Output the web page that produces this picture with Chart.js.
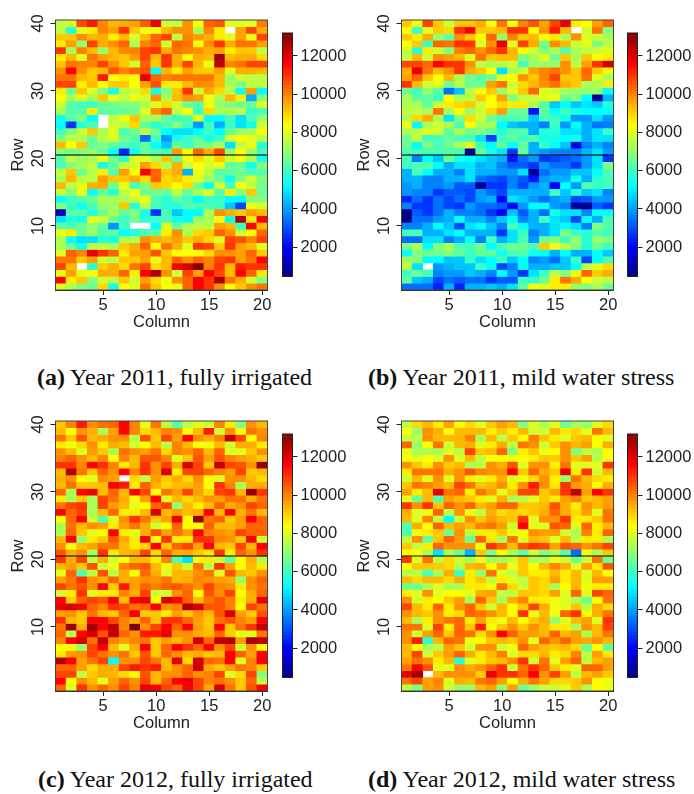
<!DOCTYPE html>
<html>
<head>
<meta charset="utf-8">
<title>Yield maps</title>
<script src="https://cdn.jsdelivr.net/npm/chart.js@4"></script>
<style>
body { margin: 0; background: #fff; width: 694px; height: 794px; position: relative; overflow: hidden; }
canvas { position: absolute; }
.cap { position: absolute; font: 24px "Liberation Serif", serif; color: #111; white-space: nowrap; }
</style>
</head>
<body>
<script>
// yield in hundreds, rows listed from row 40 down to row 1, null = no plot
const year2011Full = [
[74,77,105,110,97,90,92,94,103,113,76,74,96,82,102,104,78,78,78,99],
[74,56,78,84,98,94,108,88,80,80,90,96,96,72,98,84,null,94,106,92],
[88,88,97,90,92,84,90,77,90,102,106,74,98,94,92,84,78,94,80,106],
[84,94,70,106,92,96,102,72,98,102,76,102,100,82,96,108,92,100,100,94],
[108,72,98,90,70,90,98,98,106,108,92,100,98,96,92,94,84,88,88,74],
[84,90,78,100,94,90,88,94,106,90,108,92,82,92,90,122,90,92,92,86],
[88,100,98,98,106,96,88,76,102,88,108,92,106,90,80,118,98,100,106,106],
[96,112,96,88,90,104,98,102,104,52,90,84,94,88,88,94,78,92,92,90],
[100,100,90,88,110,82,84,82,114,102,98,100,100,100,100,90,70,76,74,74],
[106,106,84,90,82,88,88,82,94,104,84,84,90,96,96,90,72,68,74,74],
[84,66,88,78,68,54,74,76,86,54,68,88,108,76,92,86,74,54,94,52],
[82,72,78,72,88,80,74,80,76,96,72,90,96,94,80,72,90,84,46,68],
[76,62,58,58,66,66,68,68,72,78,86,76,66,62,80,70,68,66,66,78],
[72,62,62,84,62,64,64,66,78,96,102,74,82,58,86,72,72,74,58,60],
[54,62,68,52,null,74,80,88,72,72,64,58,62,78,52,52,60,50,60,70],
[52,34,56,60,null,76,74,86,64,56,62,68,58,44,58,46,58,50,54,76],
[58,68,76,88,72,78,60,66,74,66,52,50,50,52,58,52,66,70,72,80],
[68,74,72,66,74,78,66,62,40,60,44,54,58,62,54,58,76,82,78,74],
[90,82,88,64,68,64,60,58,64,52,48,66,58,66,68,72,50,74,80,56],
[68,66,68,70,64,52,32,54,64,62,60,94,82,102,92,106,70,82,70,60],
[62,74,70,72,80,66,56,78,78,72,88,64,82,86,78,88,76,80,72,54],
[60,68,72,74,54,64,74,76,94,86,72,92,76,82,76,80,64,66,54,68],
[74,88,66,74,84,62,94,82,112,102,88,92,46,80,74,62,64,66,60,62],
[72,90,74,74,94,88,88,92,86,102,86,88,84,78,70,66,54,68,76,68],
[90,74,78,92,92,66,80,60,68,88,86,82,86,66,52,76,60,82,74,66],
[74,68,80,52,64,56,74,80,66,66,64,74,64,72,78,62,84,68,88,66],
[52,58,62,66,72,72,72,76,80,60,56,64,58,52,58,58,52,52,68,68],
[68,58,54,60,70,70,88,56,74,60,56,56,62,60,60,58,48,36,80,76],
[22,62,62,56,66,72,64,68,54,34,60,48,52,52,72,96,92,88,94,90],
[50,56,54,78,76,66,58,66,56,58,60,54,52,70,72,80,54,120,84,112],
[64,60,66,70,64,44,58,null,null,52,78,64,72,74,74,94,90,58,112,90],
[80,84,66,70,62,64,52,56,60,64,84,96,72,86,88,102,96,76,82,102],
[72,52,50,50,56,54,72,72,96,92,90,94,88,92,86,78,106,104,98,106],
[72,66,54,74,74,72,88,92,102,82,100,92,78,108,106,88,108,94,90,78],
[78,102,98,114,108,102,84,94,94,104,88,82,82,82,86,96,96,94,102,88],
[100,100,88,94,76,74,88,88,94,80,90,102,96,102,98,106,108,94,100,112],
[106,90,null,56,88,92,86,100,106,86,90,112,116,126,98,108,90,110,108,108],
[80,94,78,82,92,92,102,84,112,120,96,76,106,94,112,106,90,112,102,84],
[112,84,88,68,76,74,88,76,94,86,80,96,102,112,108,120,100,92,76,68],
[78,72,68,66,86,54,82,78,100,88,82,80,102,112,108,96,82,88,96,100]
]
const year2011Stress = [
[88,80,106,88,76,88,88,92,82,100,82,98,104,94,106,114,84,82,94,102],
[82,58,78,88,86,108,112,88,88,90,108,108,82,96,110,90,null,76,100,68],
[88,84,92,70,64,96,88,82,102,70,98,88,90,82,84,72,96,78,76,72],
[82,88,58,102,100,108,108,78,96,114,78,106,92,66,96,90,76,78,68,74],
[76,56,84,76,68,98,102,96,102,108,90,82,76,68,72,62,72,74,76,78],
[74,90,76,96,94,90,78,100,88,90,90,68,72,78,66,88,72,88,82,84],
[106,106,102,112,108,108,96,74,72,74,76,60,70,70,70,96,74,94,108,116],
[92,114,100,90,96,108,92,88,82,50,72,76,94,98,100,96,88,102,88,82],
[94,102,88,82,90,72,66,62,66,78,82,96,88,98,106,88,88,100,78,72],
[108,90,76,78,66,74,66,66,94,100,76,86,90,96,100,92,88,72,72,84],
[66,58,70,62,40,48,74,82,88,70,78,88,102,78,76,72,70,70,70,52],
[72,64,64,58,82,72,74,88,82,94,68,74,76,78,80,66,68,52,20,46],
[72,72,64,76,84,86,88,76,82,86,84,84,72,62,48,52,48,50,48,56],
[74,74,72,100,72,82,70,76,86,94,66,66,30,64,52,58,54,52,52,52],
[72,86,92,72,50,68,86,76,66,60,60,62,48,60,58,54,44,44,50,44],
[80,52,72,76,72,60,82,72,72,52,48,46,46,42,58,44,52,46,40,42],
[72,74,78,76,64,72,66,68,64,56,62,62,46,56,56,50,50,46,50,58],
[66,74,58,60,64,60,60,50,36,58,64,58,62,54,54,52,54,46,50,50],
[66,52,68,60,66,72,78,58,52,64,52,64,46,58,52,48,26,42,46,42],
[60,60,60,60,62,60,18,64,54,50,34,64,46,44,42,42,42,46,50,44],
[60,42,52,48,66,54,52,50,48,46,30,40,44,34,36,38,40,44,50,34],
[58,60,62,52,46,50,50,46,48,42,38,38,34,44,40,40,34,44,50,68],
[46,60,52,46,46,42,50,46,46,44,44,50,20,40,44,44,48,48,52,60],
[46,46,42,42,46,46,50,40,38,36,42,38,30,44,46,46,54,46,56,60],
[44,46,42,42,44,38,38,20,34,34,42,36,44,46,28,52,44,62,58,58],
[44,42,42,34,38,38,36,44,40,36,46,46,46,46,58,48,56,48,50,42],
[32,40,34,40,36,40,36,44,46,28,50,48,44,40,44,46,36,38,44,44],
[42,34,34,40,36,34,44,40,40,38,28,44,52,52,44,42,20,18,38,34],
[14,38,34,40,46,42,42,40,34,28,48,38,46,40,54,50,50,42,52,52],
[14,40,40,44,46,52,46,46,42,48,52,42,46,58,50,48,36,52,46,60],
[42,42,46,52,48,36,50,52,48,42,60,52,46,46,50,52,50,42,68,62],
[60,60,46,46,50,52,46,46,46,34,50,58,42,46,50,68,58,56,62,58],
[40,40,50,50,42,46,52,42,58,46,50,60,44,66,68,58,70,56,70,68],
[68,72,52,68,72,60,60,66,52,60,66,66,60,88,80,74,68,56,66,58],
[52,68,66,66,68,64,58,64,64,54,60,62,54,52,46,52,46,46,52,48],
[72,68,52,52,48,48,58,50,52,58,48,52,42,44,40,48,58,36,52,60],
[74,50,null,44,46,48,48,58,52,36,42,52,46,46,48,48,52,74,78,86],
[58,66,60,42,44,44,48,46,42,52,44,34,50,58,74,68,80,102,88,92],
[64,48,46,36,40,38,40,40,34,38,38,58,56,66,84,100,92,82,76,74],
[40,40,40,32,46,32,46,46,48,46,50,64,80,78,84,84,70,68,72,66]
]
const year2012Full = [
[88,98,110,96,100,102,112,98,78,100,74,62,74,78,76,98,84,68,96,90],
[90,82,96,92,72,94,112,98,86,90,98,96,82,90,110,76,96,82,100,96],
[100,88,104,90,92,96,96,74,104,88,106,94,112,96,92,98,118,106,82,98],
[84,80,86,96,84,92,90,76,82,90,74,98,90,82,80,90,76,92,92,84],
[96,90,78,94,88,72,100,96,94,100,86,98,96,102,90,102,78,78,88,96],
[98,102,96,90,98,82,98,90,104,104,98,78,88,104,94,104,98,94,92,88],
[108,108,98,112,108,98,84,90,108,96,106,92,116,106,88,118,106,104,96,124],
[90,120,100,88,102,96,112,98,108,96,116,84,106,106,102,98,94,106,88,90],
[92,96,82,78,96,94,null,86,74,94,88,92,86,96,82,78,96,96,90,86],
[90,100,88,88,90,112,110,84,102,92,86,90,90,94,82,108,98,72,92,92],
[102,72,112,114,90,102,90,112,106,82,100,94,106,94,86,106,108,90,124,108],
[84,72,88,72,106,100,92,82,94,112,78,90,86,90,96,94,100,100,92,100],
[100,106,108,72,106,94,90,78,82,102,106,70,90,84,90,102,92,96,106,102],
[112,102,106,72,90,102,84,84,90,116,90,94,90,92,112,90,112,92,100,90],
[82,102,112,76,62,78,96,108,100,88,94,114,82,124,100,102,88,94,112,102],
[72,100,90,96,94,84,94,100,92,76,82,102,82,82,102,90,90,94,102,102],
[72,102,88,78,82,112,84,78,92,104,94,100,94,112,98,96,94,106,102,102],
[90,112,70,84,88,104,92,84,112,82,108,84,84,108,108,98,96,88,112,76],
[96,80,90,94,100,100,90,84,86,112,88,102,106,94,112,90,88,106,90,112],
[104,92,96,72,108,84,90,92,106,86,102,92,92,88,84,108,84,102,96,108],
[108,92,106,74,92,76,82,90,90,84,98,60,50,82,84,76,64,82,92,72],
[90,94,88,104,76,80,98,102,104,90,80,88,76,100,74,108,94,82,90,84],
[78,102,62,74,104,74,92,82,102,92,78,90,90,96,100,78,104,90,88,96],
[94,100,108,96,92,102,92,94,96,96,100,90,92,98,96,94,92,70,96,102],
[106,100,104,96,112,88,110,94,102,98,102,104,100,96,106,98,96,84,96,100],
[76,84,108,78,84,84,98,92,106,76,76,96,102,82,104,96,106,82,92,102],
[112,88,102,106,104,112,90,112,114,82,116,112,102,90,100,104,98,84,92,114],
[114,116,112,102,98,108,106,100,102,112,96,98,120,116,104,104,98,82,106,100],
[94,96,88,100,90,88,102,112,88,88,84,94,88,96,90,104,116,94,88,104],
[108,90,88,112,112,106,98,92,102,88,108,108,102,94,88,100,104,98,94,112],
[100,122,92,122,112,118,98,128,96,106,112,102,112,94,88,112,88,100,108,118],
[102,74,112,116,104,118,102,96,110,110,114,96,96,92,90,102,88,78,78,100],
[98,112,116,100,118,98,94,98,100,88,94,90,96,116,102,118,120,94,120,118],
[82,80,70,106,112,90,78,92,112,88,102,112,108,102,112,96,106,76,96,82],
[84,94,96,106,100,96,100,88,104,88,102,96,90,92,88,90,112,102,94,112],
[120,112,94,100,106,52,96,96,106,100,90,114,86,116,102,100,112,78,98,112],
[102,102,94,86,92,92,106,110,108,110,90,96,102,116,92,88,94,100,98,88],
[106,106,74,88,92,90,86,82,104,90,96,96,102,96,98,106,78,86,106,68],
[112,82,96,90,78,94,102,96,106,90,102,112,114,106,98,100,96,88,102,74],
[102,78,108,96,102,96,106,98,114,112,106,102,112,106,92,116,100,88,104,112]
]
const year2012Stress = [
[74,86,90,84,94,82,86,78,88,94,90,68,78,72,78,66,72,70,78,86],
[82,70,96,92,82,90,90,90,84,88,84,90,76,76,90,84,86,78,100,90],
[74,74,96,90,90,90,98,72,90,74,88,82,98,88,84,78,88,90,82,78],
[102,70,82,100,76,90,92,78,84,92,74,100,96,76,88,96,90,94,82,92],
[78,72,72,72,78,74,106,88,90,102,68,84,88,80,82,96,68,74,72,82],
[82,78,82,78,96,78,90,74,82,82,82,82,84,88,88,96,88,94,74,82],
[96,88,84,96,88,90,72,74,96,92,104,78,96,96,84,100,78,78,78,108],
[84,100,100,100,92,96,104,98,96,96,112,88,102,92,88,114,84,108,76,90],
[76,90,78,96,78,96,84,78,84,92,78,80,86,96,84,70,100,90,86,84],
[88,100,98,94,90,106,100,88,90,96,84,96,110,96,84,108,94,92,82,92],
[94,84,90,114,100,102,84,100,94,78,88,106,106,88,94,108,118,94,112,108],
[78,66,90,62,94,90,88,84,78,92,72,74,78,88,84,94,98,88,90,94],
[108,96,108,88,102,96,102,90,94,102,102,88,88,90,104,92,84,96,90,94],
[92,78,80,102,74,96,80,74,92,86,88,86,88,92,102,92,86,94,78,100],
[90,78,98,74,52,76,96,88,94,90,88,108,78,96,96,108,84,84,88,100],
[62,92,82,102,90,94,90,98,100,94,76,112,78,78,104,102,78,102,84,90],
[60,80,84,88,66,96,74,84,84,88,80,82,96,94,94,76,72,98,84,102],
[74,96,64,88,102,94,66,102,84,72,100,78,90,88,78,90,74,84,84,72],
[88,74,84,102,96,96,96,80,108,102,90,104,108,106,94,104,102,96,100,106],
[82,82,72,50,72,66,46,88,68,82,72,64,76,68,72,62,40,80,72,88],
[108,78,100,74,86,76,72,80,72,72,76,88,72,72,80,76,66,76,100,66],
[82,88,88,88,86,74,90,92,82,92,80,88,82,90,98,92,78,94,84,104],
[74,74,60,72,92,58,84,70,100,78,74,88,84,84,90,84,90,78,90,82],
[90,86,90,90,86,92,84,88,74,84,78,74,88,86,94,84,90,78,94,94],
[66,66,72,78,72,72,84,84,82,100,86,76,88,86,72,82,90,80,84,84],
[84,78,96,78,82,82,78,92,94,74,74,88,88,86,94,78,102,78,106,102],
[96,76,84,82,88,94,72,102,88,72,92,98,84,84,80,78,72,66,82,100],
[106,90,84,102,84,96,102,88,76,90,82,88,106,92,80,78,88,74,92,86],
[96,90,88,96,84,86,102,100,96,90,82,108,80,90,80,102,108,82,92,100],
[90,72,84,96,100,102,84,94,84,80,90,82,88,92,70,78,90,94,78,108],
[100,100,78,106,84,102,88,110,82,88,96,88,96,90,84,84,72,96,90,106],
[96,76,94,102,88,102,100,86,96,112,102,94,94,90,102,90,94,72,90,100],
[96,110,56,90,102,100,80,82,88,90,88,96,78,102,96,102,94,92,96,90],
[90,82,72,74,94,88,76,96,96,76,80,102,94,90,88,90,86,66,82,64],
[90,106,76,88,94,102,92,84,90,98,78,86,86,90,84,86,98,74,94,84],
[94,100,96,84,90,56,78,84,88,90,96,108,76,100,78,94,102,74,90,94],
[100,112,104,78,78,96,92,96,102,108,76,100,108,102,88,84,78,102,102,94],
[114,122,null,90,96,96,96,88,114,108,108,102,112,96,106,94,74,90,94,88],
[100,106,94,98,78,92,90,100,102,94,82,92,100,94,86,86,88,96,82,80],
[74,68,94,96,76,70,70,90,94,70,94,66,70,76,76,78,88,72,82,80]
]

const columns = [1,2,3,4,5,6,7,8,9,10,11,12,13,14,15,16,17,18,19,20]
const xTicks = [5,10,15,20]
const yTicks = [10,20,30,40]
const barTicks = [2000,4000,6000,8000,10000,12000]
const barEdges = [470,670,870,1070,1270,1470,1670,1870,2070,2270,2470,2670,2870,3070,3270,3470,3670,3870,4070,4270,4470,4670,4870,5070,5270,5470,5670,5870,6070,6270,6470,6670,6870,7070,7270,7470,7670,7870,8070,8270,8470,8670,8870,9070,9270,9470,9670,9870,10070,10270,10470,10670,10870,11070,11270,11470,11670,11870,12070,12270,12470,12670,12870,13070,13200]
const fieldSplit = 20.5

// colours as they were read from the cells
const cellRamp = [
  [14,0,0,130],[20,0,0,150],[28,0,0,255],[36,0,70,255],[42,0,130,255],[48,0,200,255],[52,0,255,255],
  [58,60,255,195],[66,110,255,145],[72,170,255,85],[78,225,255,30],[82,255,255,0],[88,255,200,0],
  [96,255,145,0],[102,255,100,0],[108,255,50,0],[112,255,0,0],[120,175,0,0],[130,110,0,0]
]
const barRamp = [
  [400,0,0,128],[2000,0,0,255],[3600,0,128,255],[5200,0,255,255],[6800,128,255,128],
  [8400,255,255,0],[10000,255,128,0],[11600,255,0,0],[13200,128,0,0]
]

function rampColor(ramp, v) {
  let i = 1
  while (i < ramp.length - 1 && v > ramp[i][0]) i++
  const a = ramp[i - 1], b = ramp[i]
  const t = Math.min(1, Math.max(0, (v - a[0]) / (b[0] - a[0])))
  const c = [1, 2, 3].map(k => Math.round(a[k] + (b[k] - a[k]) * t))
  return `rgb(${c[0]},${c[1]},${c[2]})`
}

const tickFont = { family: 'Liberation Sans', size: 16.5 }
const ink = '#222'

const framePlugin = {
  id: 'frame',
  afterDatasetsDraw(chart) {
    const a = chart.chartArea, c = chart.ctx
    c.save()
    c.strokeStyle = chart.options.frameColor || '#444'
    c.lineWidth = 1
    c.strokeRect(a.left, a.top, a.width, a.height)
    c.restore()
  }
}

function addCanvas(left, top, w, h) {
  const el = document.createElement('canvas')
  el.width = w
  el.height = h
  el.style.left = left + 'px'
  el.style.top = top + 'px'
  el.style.width = w + 'px'
  el.style.height = h + 'px'
  document.body.appendChild(el)
  return el
}

function heatmap(left, top, grid, lineColor, lineWidth) {
  const datasets = grid.map((cells, i) => {
    const row = 40 - i
    return {
      data: columns.map(c => ({ x: c, y: [row - 0.5, row + 0.5] })).filter((d, k) => cells[k] !== null),
      backgroundColor: cells.filter(v => v !== null).map(v => rampColor(cellRamp, v)),
      barPercentage: 1,
      categoryPercentage: 1,
      grouped: false,
      order: 2
    }
  })
  datasets.push({
    type: 'line',
    data: [{ x: 0.5, y: fieldSplit }, { x: 20.5, y: fieldSplit }],
    borderColor: lineColor,
    borderWidth: lineWidth,
    pointRadius: 0,
    order: 1
  })
  new Chart(addCanvas(left, top, 275, 345), {
    type: 'bar',
    data: { datasets },
    plugins: [framePlugin],
    options: {
      responsive: false,
      animation: false,
      layout: { padding: { top: 20, right: 7.5 } },
      plugins: { legend: { display: false }, tooltip: { enabled: false } },
      scales: {
        x: {
          type: 'linear',
          min: 0.5,
          max: 20.5,
          offset: false,
          grid: { offset: false, drawOnChartArea: false, tickLength: 5, tickColor: ink },
          border: { color: ink },
          afterBuildTicks: s => { s.ticks = xTicks.map(v => ({ value: v })) },
          afterFit: s => { s.height = 55 },
          ticks: { font: tickFont, color: ink, padding: 1, maxRotation: 0, autoSkip: false, callback: v => String(v) },
          title: { display: true, text: 'Column', font: tickFont, color: ink, padding: { top: 0, bottom: 13 } }
        },
        y: {
          type: 'linear',
          min: 0.5,
          max: 40.5,
          grid: { drawOnChartArea: false, tickLength: 5, tickColor: ink },
          border: { color: ink },
          afterBuildTicks: s => { s.ticks = yTicks.map(v => ({ value: v })) },
          afterFit: s => { s.width = 55.5 },
          ticks: { font: tickFont, color: ink, padding: 2.5, minRotation: 90, maxRotation: 90, crossAlign: 'center', autoSkip: false, callback: v => String(v) },
          title: { display: true, text: 'Row', font: tickFont, color: ink, padding: { top: 9, bottom: 0 } }
        }
      }
    }
  })
}

function colorbar(left, top) {
  const datasets = barEdges.slice(1).map((hi, i) => ({
    data: [[barEdges[i], hi]],
    backgroundColor: rampColor(barRamp, (barEdges[i] + hi) / 2),
    barPercentage: 1,
    categoryPercentage: 1,
    grouped: false
  }))
  new Chart(addCanvas(left, top, 74, 290), {
    type: 'bar',
    data: { labels: [''], datasets },
    plugins: [framePlugin],
    options: {
      responsive: false,
      animation: false,
      frameColor: '#222',
      layout: { padding: { left: 7.5, top: 33, bottom: 13.5 } },
      plugins: { legend: { display: false }, tooltip: { enabled: false } },
      scales: {
        x: { display: false },
        y: {
          position: 'right',
          min: 470,
          max: 13200,
          grid: { drawOnChartArea: false, tickLength: 5, tickColor: ink },
          border: { color: ink },
          afterBuildTicks: s => { s.ticks = barTicks.map(v => ({ value: v })) },
          afterFit: s => { s.width = 56.5 },
          ticks: { font: tickFont, color: ink, padding: 3, autoSkip: false, callback: v => String(v) }
        }
      }
    }
  })
}

heatmap(0, 0, year2011Full, 'rgba(0,0,0,0.7)', 1.4)
colorbar(275, 0)
heatmap(346, 0, year2011Stress, 'rgba(0,0,0,0.7)', 1.4)
colorbar(620, 0)
heatmap(0, 401, year2012Full, '#000', 1.2)
colorbar(275, 401)
heatmap(346, 401, year2012Stress, '#000', 1.2)
colorbar(620, 401)

const captions = [
  ['(a)', ' Year 2011, fully irrigated', 37, 364],
  ['(b)', ' Year 2011, mild water stress', 368, 364],
  ['(c)', ' Year 2012, fully irrigated', 38, 766],
  ['(d)', ' Year 2012, mild water stress', 368, 766]
]
captions.forEach(([tag, text, x, y]) => {
  const d = document.createElement('div')
  d.className = 'cap'
  d.style.left = x + 'px'
  d.style.top = y + 'px'
  const b = document.createElement('b')
  b.textContent = tag
  d.appendChild(b)
  d.appendChild(document.createTextNode(text))
  document.body.appendChild(d)
})
</script>
</body>
</html>
